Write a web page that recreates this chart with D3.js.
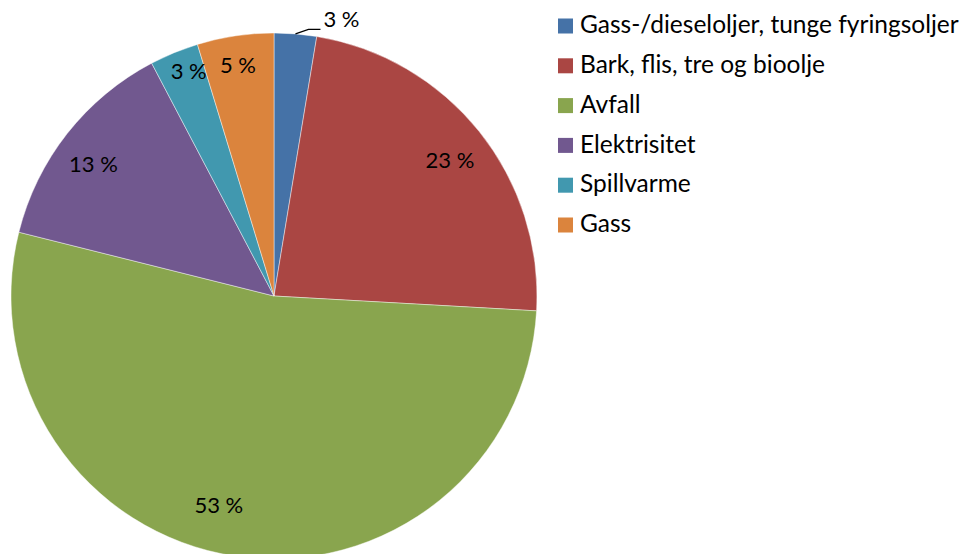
<!DOCTYPE html>
<html>
<head>
<meta charset="utf-8">
<script src="https://cdn.jsdelivr.net/npm/d3@7"></script>
<style>
  html, body { margin: 0; padding: 0; background: #ffffff; }
  svg { display: block; }
  text { font-family: Lato, "Liberation Sans", sans-serif; fill: #000; }
</style>
</head>
<body>
<svg id="chart" width="963" height="554"></svg>
<script>
// Energy sources, share of total (%)
const categories = [
  "Gass-/dieseloljer, tunge fyringsoljer",
  "Bark, flis, tre og bioolje",
  "Avfall",
  "Elektrisitet",
  "Spillvarme",
  "Gass"
];
const shares = [2.6, 23.3, 53.0, 13.4, 3.0, 4.7];
const colors = ["#4572A7", "#AA4643", "#89A54E", "#71588F", "#4198AF", "#DB843D"];

const W = 963, H = 554;
const cx = 274, cy = 296, R = 263;
const labelFont = 22;
const legendFont = 24.5;

const svg = d3.select("#chart");

const data = categories.map((c, i) => ({ name: c, value: shares[i], color: colors[i] }));

const pie = d3.pie().value(d => d.value).sort(null);
const arcs = pie(data);
const arc = d3.arc().innerRadius(0).outerRadius(R);

const g = svg.append("g").attr("transform", `translate(${cx},${cy})`);

g.selectAll("path.slice")
  .data(arcs)
  .join("path")
  .attr("class", "slice")
  .attr("d", arc)
  .attr("fill", d => d.data.color)
  .attr("stroke", "rgba(255,255,255,0.55)")
  .attr("stroke-width", 0.8);

// label placement: radius as a fraction of R, plus an angular shift (degrees)
const labelPlace = [null, [0.84, 1.5], [0.83, 6], [0.845, -2.5], [0.905, 1.3], [0.88, -0.5]];
const fmt = v => `${Math.round(v)} %`;

arcs.forEach((a, i) => {
  const mid = (a.startAngle + a.endAngle) / 2;
  if (labelPlace[i] === null) {
    // outside label with a leader line
    const p0 = [R * Math.sin(mid), -R * Math.cos(mid)];
    const p1 = [p0[0] + 13, p0[1] - 4.5];
    const p2 = [p1[0] + 12, p1[1]];
    g.append("path")
      .attr("d", d3.line()([p0, p1, p2]))
      .attr("fill", "none")
      .attr("stroke", "#000")
      .attr("stroke-width", 1.2);
    g.append("text")
      .attr("x", p2[0] + 3)
      .attr("y", p2[1] - 8)
      .attr("dominant-baseline", "middle")
      .attr("font-size", labelFont)
      .text(fmt(a.data.value));
  } else {
    const [f, shift] = labelPlace[i];
    const ang = mid + shift * Math.PI / 180;
    const r = R * f;
    g.append("text")
      .attr("x", r * Math.sin(ang))
      .attr("y", -r * Math.cos(ang))
      .attr("text-anchor", "middle")
      .attr("dominant-baseline", "middle")
      .attr("font-size", labelFont)
      .text(fmt(a.data.value));
  }
});

// legend
const legendY = d3.scalePoint().domain(categories).range([26, 225]);
const legend = svg.append("g");
const rows = legend.selectAll("g.row")
  .data(data)
  .join("g")
  .attr("class", "row")
  .attr("transform", d => `translate(558,${legendY(d.name)})`);
rows.append("rect")
  .attr("x", 0).attr("y", -7.5)
  .attr("width", 15).attr("height", 15)
  .attr("fill", d => d.color);
rows.append("text")
  .attr("x", 22)
  .attr("y", 1)
  .attr("dominant-baseline", "middle")
  .attr("font-size", legendFont)
  .text(d => d.name);
</script>
</body>
</html>
